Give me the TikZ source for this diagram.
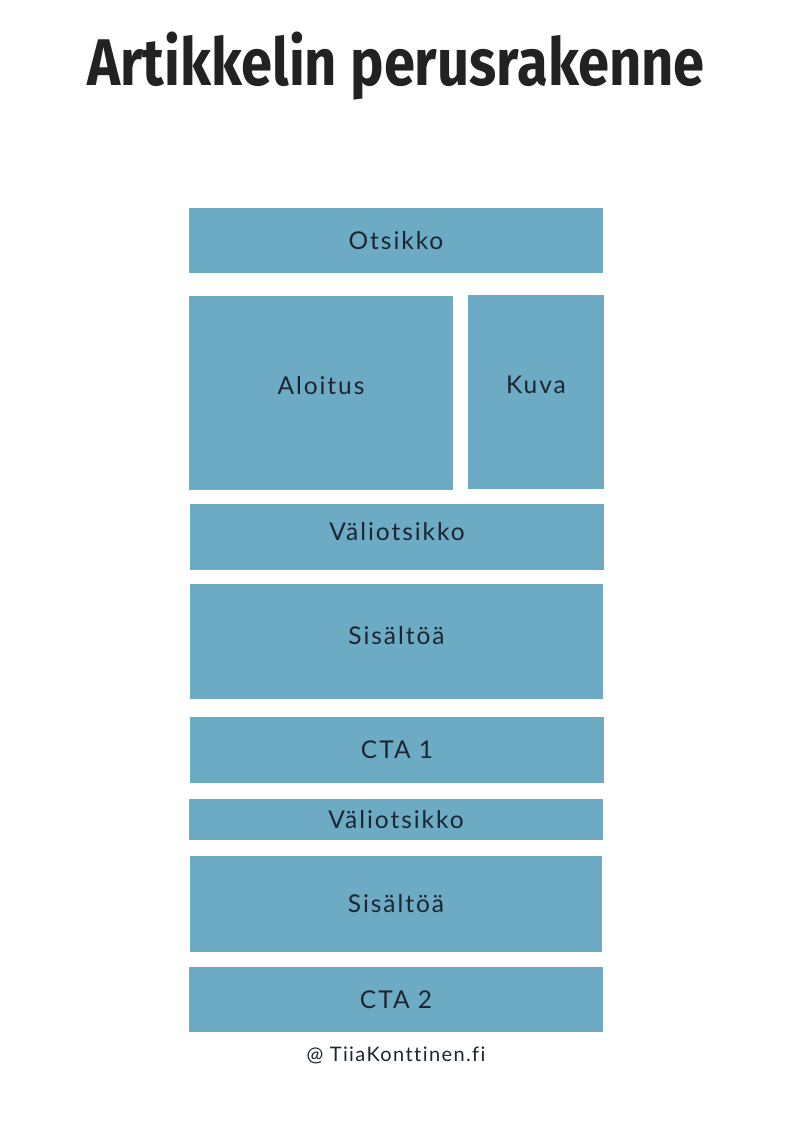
\documentclass[tikz,border=0pt]{standalone}
\usepackage{fontspec}
\setmainfont{Lato}
\newfontfamily\otsikkofont{Fira Sans}
\newfontfamily\lohkofont[LetterSpace=8, Ligatures=NoCommon]{Lato}
\newfontfamily\alafont[LetterSpace=7, Ligatures=NoCommon]{Lato}
\usetikzlibrary{positioning}
\definecolor{lohkosini}{HTML}{6DAAC4}
\definecolor{tekstisini}{HTML}{1C2630}
\tikzset{
  lohko/.style={fill=lohkosini, draw=none, inner sep=0pt, outer sep=0pt, anchor=north west,
    text=tekstisini, font=\lohkofont\fontsize{24.5}{28}\selectfont},
}

\begin{document}
\begin{tikzpicture}[x=1pt,y=-1pt]
  \fill[white] (0,0) rectangle (793,1122);
  % otsikko
  \node (title) at (396,66) {\scalebox{0.85}[1]{\otsikkofont\bfseries\fontsize{66}{70}\selectfont\color[HTML]{222222}Artikkelin perusrakenne}};
  % lohkot
  \node[lohko, minimum width=414pt, minimum height=65pt] (otsikko) at (189,208) {Otsikko};
  \node[lohko, minimum width=264pt, minimum height=194pt,
    label={[lohko, anchor=center, fill=none, yshift=7pt]center:Aloitus}] (aloitus) at (189,296) {};
  \node[lohko, minimum width=136pt, minimum height=194pt,
    label={[lohko, anchor=center, fill=none, yshift=7pt]center:Kuva}] (kuva) at (468,295) {};
  \node[lohko, minimum width=414pt, minimum height=66pt,
    label={[lohko, anchor=center, fill=none, yshift=5pt]center:Väliotsikko}] (vali1) at (190,504) {};
  \node[lohko, minimum width=413pt, minimum height=115pt,
    label={[lohko, anchor=center, fill=none, yshift=6pt]center:Sisältöä}] (sisalto1) at (190,584) {};
  \node[lohko, minimum width=414pt, minimum height=66pt] (cta1) at (190,717) {CTA 1};
  \node[lohko, minimum width=414pt, minimum height=41pt] (vali2) at (189,799) {Väliotsikko};
  \node[lohko, minimum width=412pt, minimum height=96pt] (sisalto2) at (190,856) {Sisältöä};
  \node[lohko, minimum width=414pt, minimum height=65pt] (cta2) at (189,967) {CTA 2};
  % alateksti
  \node[text=tekstisini, font=\alafont\fontsize{20}{22}\selectfont, below=11pt of cta2] (lahde) {@ TiiaKonttinen.fi};
\end{tikzpicture}
\end{document}
